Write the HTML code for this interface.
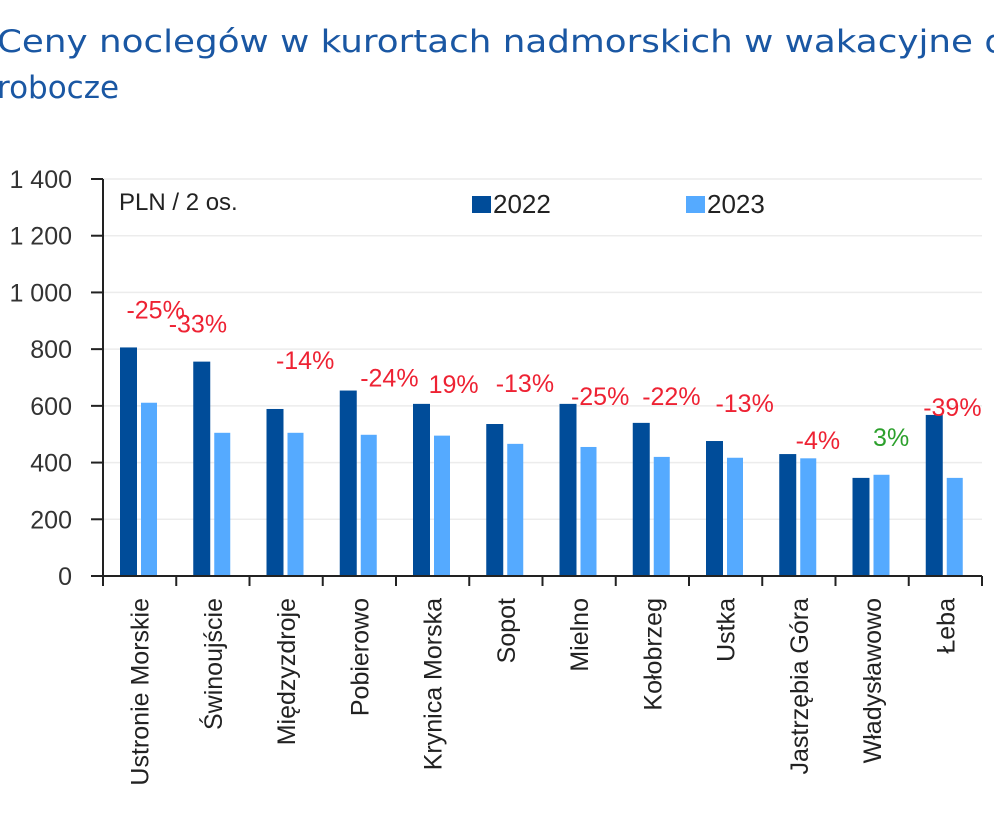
<!DOCTYPE html>
<html><head><meta charset="utf-8"><style>
body{margin:0;background:#fff;width:994px;height:828px;overflow:hidden;font-family:"Liberation Sans",sans-serif}
</style></head><body>
<svg width="994" height="828" xmlns="http://www.w3.org/2000/svg" id="svg">
<text x="-3" y="52" font-size="31" fill="#1a57a3" font-family="DejaVu Sans, sans-serif" textLength="1010" lengthAdjust="spacingAndGlyphs">Ceny noclegów w kurortach nadmorskich w wakacyjne d</text>
<text x="-3" y="98" font-size="31" fill="#1a57a3" font-family="DejaVu Sans, sans-serif">robocze</text>
<text x="119" y="210" font-size="24" fill="#222">PLN / 2 os.</text>
<rect x="472" y="196" width="19" height="17" fill="#004c99"/>
<text x="493" y="213" font-size="26" fill="#222">2022</text>
<rect x="686" y="196" width="19" height="17" fill="#55aaff"/>
<text x="707" y="213" font-size="26" fill="#222">2023</text>
<g id="g"></g>
</svg>
<script>
const categories=["Ustronie Morskie","Świnoujście","Międzyzdroje","Pobierowo","Krynica Morska","Sopot","Mielno","Kołobrzeg","Ustka","Jastrzębia Góra","Władysławowo","Łeba"];
const values2022=[806,756,589,654,607,536,607,540,476,430,346,568];
const values2023=[611,505,505,498,495,466,455,420,417,415,357,346];
const changeLabels=["-25%","-33%","-14%","-24%","19%","-13%","-25%","-22%","-13%","-4%","3%","-39%"];
const yTicks=[0,200,400,600,800,1000,1200,1400];
const yTickLabels=["0","200","400","600","800","1 000","1 200","1 400"];
// layout (not data): label offsets above the taller bar
const labelDy=[38,38,49,13,20,41,8,27,38,14,38,8];
const labelDx=[16,-15,19,30,21,19,21,19,19,19,19,7];
const NS="http://www.w3.org/2000/svg",g=document.getElementById('g');
const x0=103,x1=982,y0=576,yTop=179,maxV=1400;
const bw=(x1-x0)/categories.length;
const y=v=>y0-(v/maxV)*(y0-yTop);
function mk(t,a,txt){const e=document.createElementNS(NS,t);for(const k in a)e.setAttribute(k,a[k]);if(txt!=null)e.textContent=txt;g.appendChild(e);return e;}
yTicks.forEach((v,i)=>{
 if(v>0){const l=mk('line',{x1:x0,x2:x1,y1:y(v),y2:y(v),stroke:'#ececec','stroke-width':1.5});
 }
 const t=mk('line',{x1:91,x2:x0,y1:y(v),y2:y(v),stroke:'#222','stroke-width':2});
 
 const lb=mk('text',{x:72,y:y(v)+9,'text-anchor':'end','font-size':25,fill:'#333'},yTickLabels[i]);
 
});
categories.forEach((c,i)=>{
 const cx=x0+i*bw;
 const b1=mk('rect',{x:cx+17,y:y(values2022[i]),width:17,height:y0-y(values2022[i]),fill:'#004c99'});
 
 const b2=mk('rect',{x:cx+38,y:y(values2023[i]),width:16,height:y0-y(values2023[i]),fill:'#55aaff'});
 
 const top=y(Math.max(values2022[i],values2023[i]));
 const pos=changeLabels[i].charAt(0)!=='-'&&i===10;
 const lt=mk('text',{x:cx+bw/2+labelDx[i],y:top-labelDy[i]+9,'text-anchor':'middle','font-size':25,fill:pos?'#2ca02c':'#ee2233'},changeLabels[i]);
 
 const tk=mk('line',{x1:cx+bw,x2:cx+bw,y1:y0,y2:y0+10,stroke:'#222','stroke-width':2});
 
 const xl=mk('text',{transform:`translate(${cx+bw/2+9},598) rotate(-90)`,'text-anchor':'end','font-size':25,fill:'#222'},c);
 
});
const ax=mk('line',{x1:x0,x2:x1,y1:y0,y2:y0,stroke:'#222','stroke-width':2});

const t0=mk('line',{x1:x0,x2:x0,y1:y0,y2:y0+10,stroke:'#222','stroke-width':2});

const ay=mk('line',{x1:x0,x2:x0,y1:yTop,y2:y0,stroke:'#222','stroke-width':2});

</script>
</body></html>
